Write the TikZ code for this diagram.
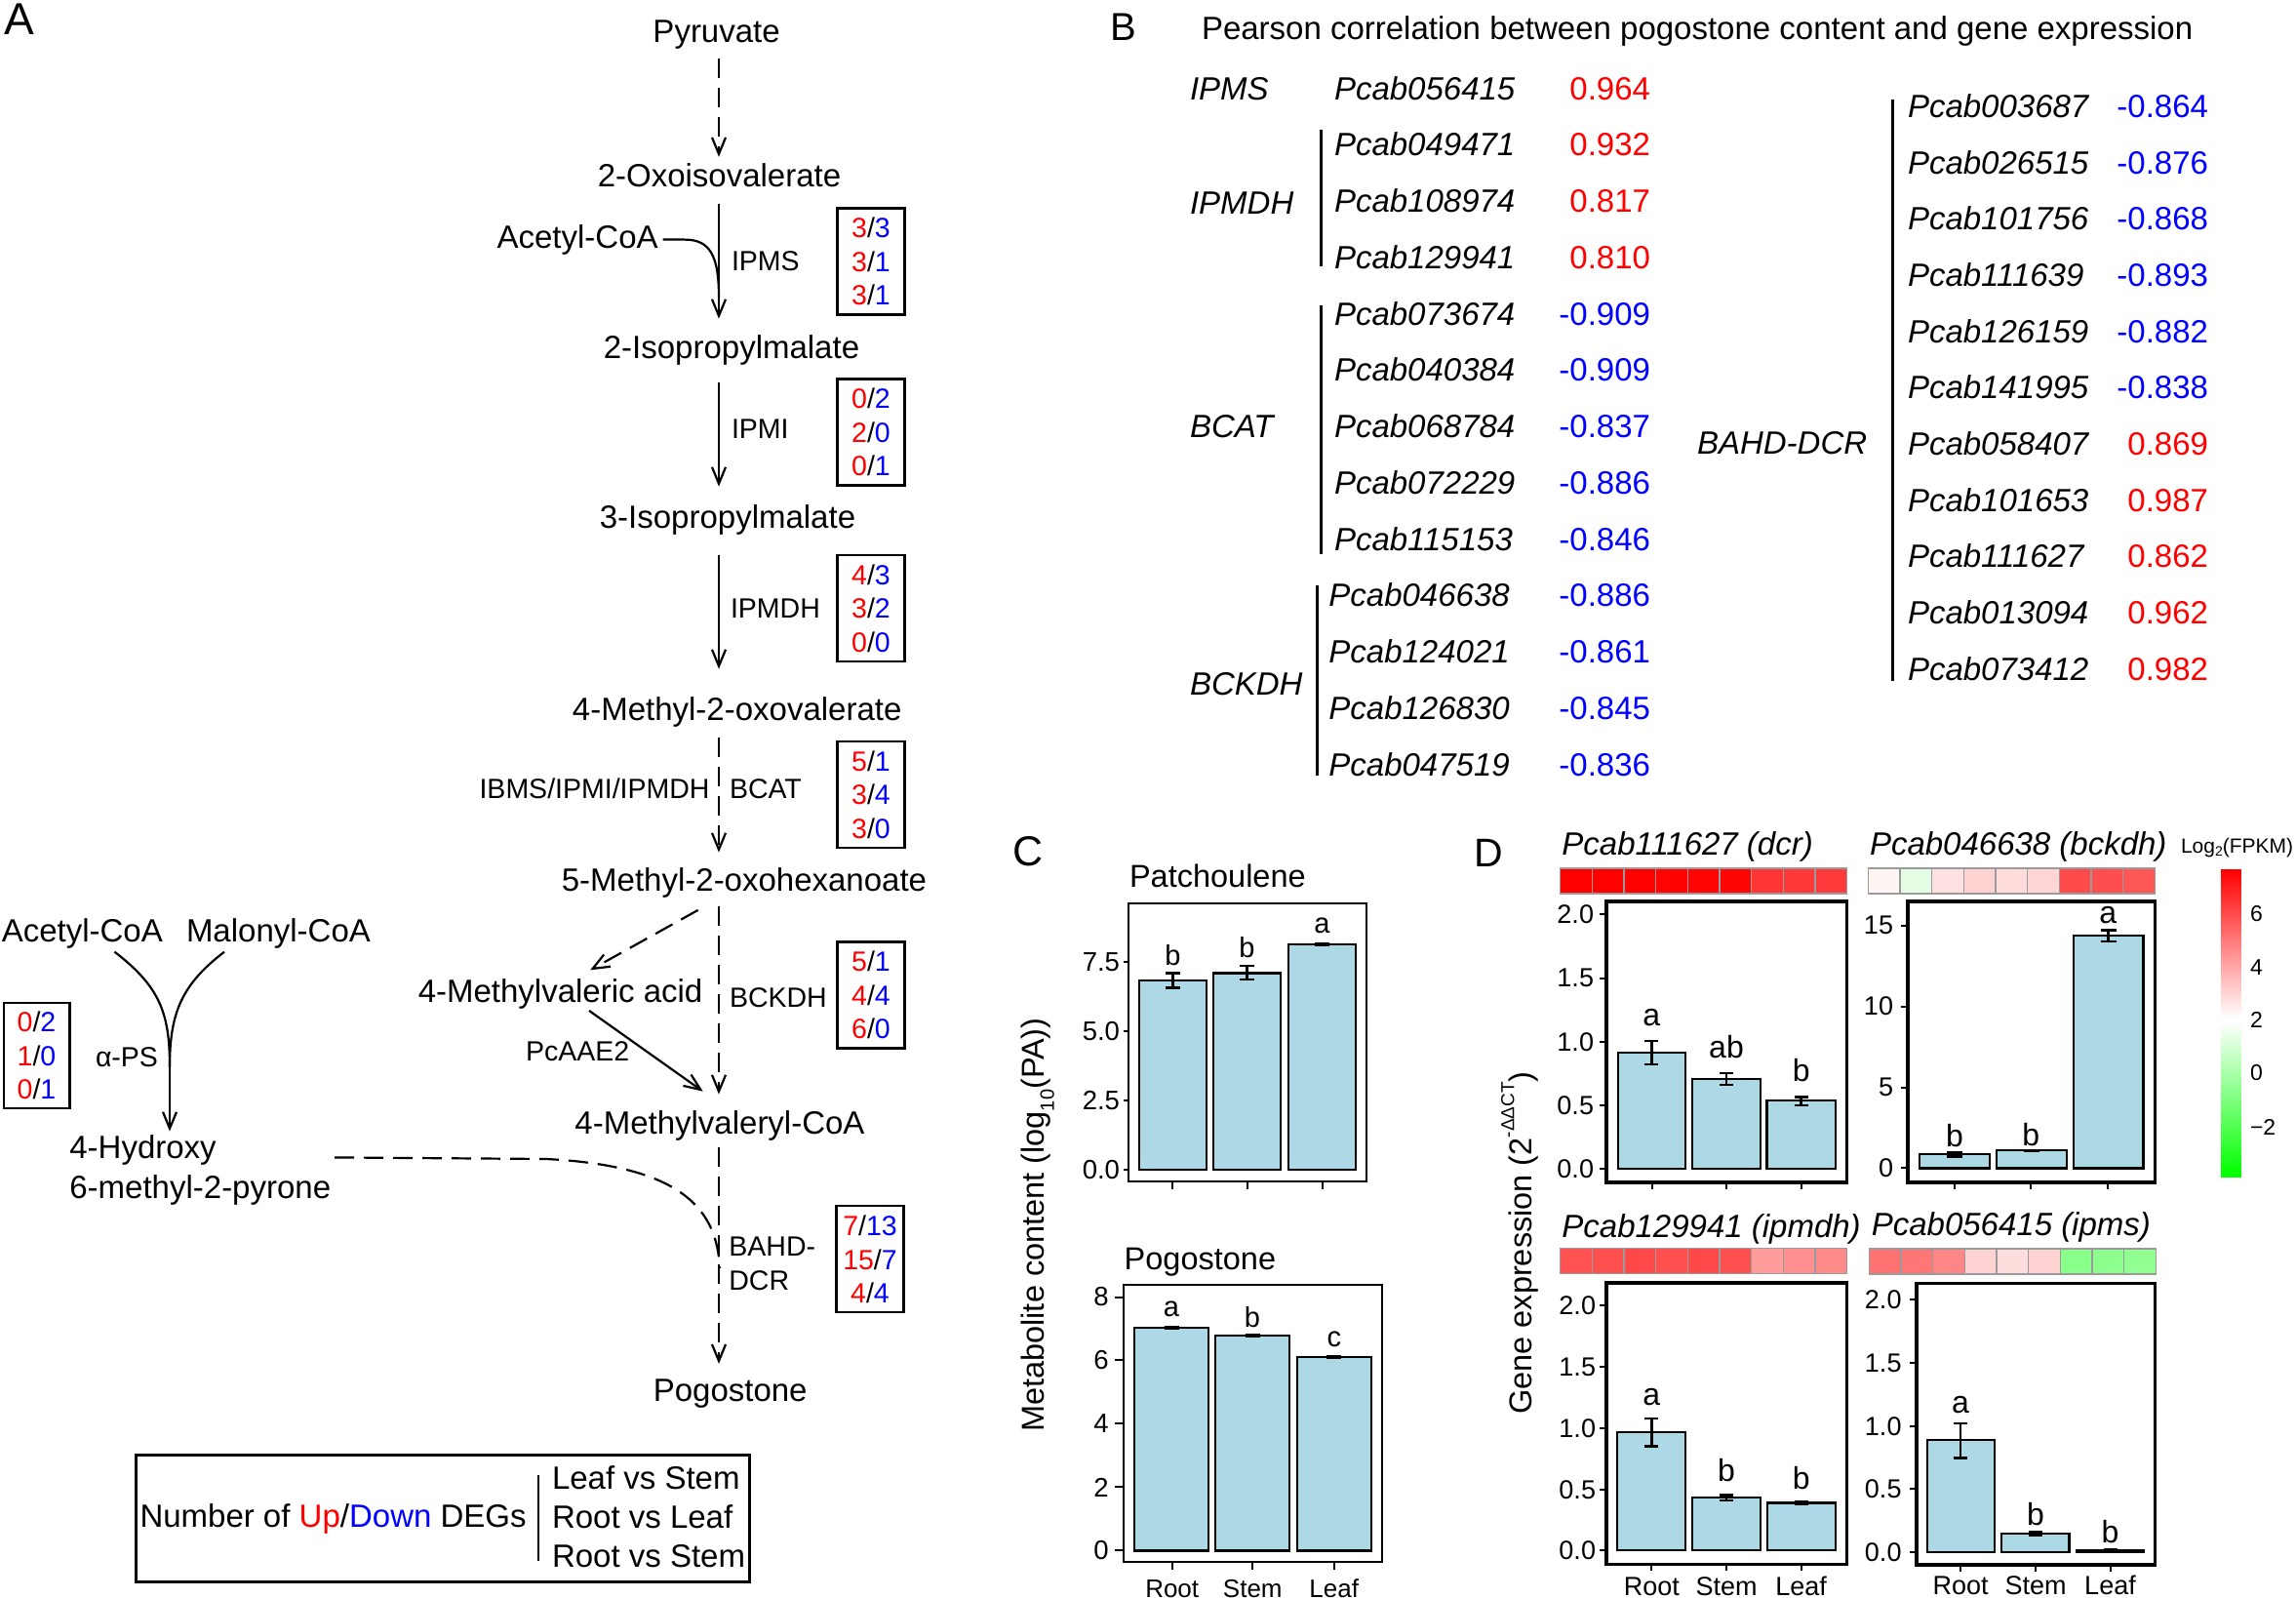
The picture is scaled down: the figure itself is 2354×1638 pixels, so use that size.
\documentclass[tikz,border=0pt]{standalone}
\usepackage{fontspec}
\setmainfont{Liberation Sans}
\usetikzlibrary{arrows.meta}
\definecolor{upred}{RGB}{255,0,0}
\definecolor{dnblue}{RGB}{0,0,255}
\definecolor{barblue}{RGB}{173,216,230}
\definecolor{cellgray}{RGB}{155,155,155}
\definecolor{cbgreen}{RGB}{0,255,0}
\newcommand{\upn}[1]{\textcolor{upred}{#1}}
\newcommand{\dnn}[1]{\textcolor{dnblue}{#1}}
\newcommand{\fs}[1]{\fontsize{#1}{#1}\selectfont}
\newcommand{\pbar}[4]{\draw[barst] (#1,#4) rectangle (#2,#3);}
\newcommand{\perr}[4]{\draw[errst] ({#1-#4},#2) -- ({#1+#4},#2) (#1,#2) -- (#1,#3) ({#1-#4},#3) -- ({#1+#4},#3);}
\newcommand{\hmap}[3]{\foreach \hc [count=\hk] in {#3} {\definecolor{hmc}{HTML}{\hc}\filldraw[fill=hmc,draw=cellgray,line width=1.4pt] ({#1+(\hk-1)*32.67},#2) rectangle ++(32.67,26);}}
\begin{document}
\begin{tikzpicture}[x=1pt,y=-1pt,
  txt/.style={inner sep=0pt,outer sep=0pt},
  cmp/.style={txt,font=\fs{33}},
  enz/.style={txt,font=\fs{28.5}},
  plab/.style={txt,font=\fs{42}},
  gene/.style={txt,font=\fs{33}\itshape},
  valst/.style={txt,font=\fs{33}},
  conn/.style={line width=2.2pt,-{Straight Barb[length=17pt,width=14pt]}},
  dconn/.style={conn,dash pattern=on 20pt off 10pt},
  plainln/.style={line width=2.2pt},
  dashln/.style={line width=2.2pt,dash pattern=on 20pt off 10pt},
  degbox/.style={draw,line width=2.2pt,minimum width=69pt,minimum height=109pt,inner sep=0pt,align=center,font=\fontsize{28.5}{34.5}\selectfont},
  grpbar/.style={line width=3pt},
  barst/.style={draw=black,fill=barblue,line width=2.2pt},
  errst/.style={line width=2.4pt},
  frameC/.style={draw,line width=2pt},
  frameD/.style={draw,line width=3.6pt},
  tickst/.style={line width=2pt},
  tkC/.style={txt,font=\fs{27.5}},
  tkD/.style={txt,font=\fs{27}},
  sigC/.style={txt,font=\fs{29}},
  sig/.style={txt,font=\fs{32}},
  xlabC/.style={txt,font=\fs{26}},
  xlab/.style={txt,font=\fs{27}},
]
\useasboundingbox (0,0) rectangle (2354,1638);
\fill[white] (0,0) rectangle (2354,1638);

% ---------------- Panel A ----------------
\node[plab,anchor=base west,font=\fs{46}] (labA) at (5,35.7) {A};
\coordinate (ax) at (737,0);
\node[cmp,anchor=base] (pyr) at (734.6,43.6) {Pyruvate};
\node[cmp,anchor=base] (oxo) at (737.5,191.8) {2-Oxoisovalerate};
\node[cmp,anchor=base] (ipm2) at (750,367) {2-Isopropylmalate};
\node[cmp,anchor=base] (ipm3) at (746,541) {3-Isopropylmalate};
\node[cmp,anchor=base] (mov) at (755.7,738) {4-Methyl-2-oxovalerate};
\node[cmp,anchor=base] (mhx) at (763,913) {5-Methyl-2-oxohexanoate};
\node[cmp,anchor=base east] (mva) at (720.4,1027.5) {4-Methylvaleric acid};
\node[cmp,anchor=base] (mvc) at (738,1162) {4-Methylvaleryl-CoA};
\node[cmp,anchor=base] (pog) at (748.7,1436) {Pogostone};
\node[cmp,anchor=base west] (ac1) at (509.6,254) {Acetyl-CoA};

\node[enz,anchor=base west] (eIPMS) at (750,277.9) {IPMS};
\node[enz,anchor=base west] (eIPMI) at (750,449) {IPMI};
\node[enz,anchor=base west] (eIPMDH) at (749,633.6) {IPMDH};
\node[enz,anchor=base east] (eIBMS) at (727.5,818.6) {IBMS/IPMI/IPMDH};
\node[enz,anchor=base west] (eBCAT) at (748,818.6) {BCAT};
\node[enz,anchor=base west] (eBCKDH) at (748,1032) {BCKDH};
\node[enz,anchor=base west] (ePcAAE) at (539,1087.5) {PcAAE2};
\node[enz,anchor=base west] (eBAHD1) at (747.4,1287.5) {BAHD-};
\node[enz,anchor=base west] (eBAHD2) at (747.4,1322) {DCR};

\node[degbox] (db1) at (893,268) {\upn{3}/\dnn{3}\\\upn{3}/\dnn{1}\\\upn{3}/\dnn{1}};
\node[degbox] (db2) at (893,443) {\upn{0}/\dnn{2}\\\upn{2}/\dnn{0}\\\upn{0}/\dnn{1}};
\node[degbox] (db3) at (893,623.8) {\upn{4}/\dnn{3}\\\upn{3}/\dnn{2}\\\upn{0}/\dnn{0}};
\node[degbox] (db4) at (893,814.8) {\upn{5}/\dnn{1}\\\upn{3}/\dnn{4}\\\upn{3}/\dnn{0}};
\node[degbox] (db5) at (893,1020) {\upn{5}/\dnn{1}\\\upn{4}/\dnn{4}\\\upn{6}/\dnn{0}};
\node[degbox] (db6) at (892,1290.8) {\upn{7}/\dnn{13}\\\upn{15}/\dnn{7}\\\upn{4}/\dnn{4}};
\node[degbox,minimum width=67.8pt,minimum height=108pt] (db7) at (37.5,1082) {\upn{0}/\dnn{2}\\\upn{1}/\dnn{0}\\\upn{0}/\dnn{1}};

% main axis connectors
\draw[dconn,shorten <=9.5pt,shorten >=7.1pt] (pyr.south -| ax) -- (oxo.north -| ax);
\draw[conn,shorten <=16.8pt,shorten >=16.4pt] (oxo.south -| ax) -- (ipm2.north -| ax);
\coordinate (ipmsj) at (737,305);
\draw[plainln] ([xshift=5pt]ac1.east) -- (702,245.6) .. controls (728,245.6) and (737,262) .. (ipmsj);
\draw[conn,shorten <=18.1pt,shorten >=18.4pt] (ipm2.south -| ax) -- (ipm3.north -| ax);
\draw[conn,shorten <=21.1pt,shorten >=28.4pt] (ipm3.south -| ax) -- (mov.north -| ax);
\draw[dconn,shorten <=11.1pt,shorten >=15.4pt] (mov.south -| ax) -- (mhx.north -| ax);
\draw[dconn,shorten <=9.1pt,shorten >=16.4pt] (mhx.south -| ax) -- (mvc.north -| ax);
\draw[dconn] ([xshift=-47.3pt,yshift=-13pt]mhx.south) -- ([xshift=30.6pt,yshift=9.3pt]mva.north);
\draw[conn] ([xshift=29.4pt,yshift=-1.6pt]mva.south) -- ([xshift=-17.3pt,yshift=19.4pt]mvc.north);
\draw[dconn,shorten <=7.1pt,shorten >=15.4pt] (mvc.south -| ax) -- (pog.north -| ax);

% left branch
\node[cmp,anchor=base west] (ac2) at (1.8,965.7) {Acetyl-CoA};
\node[cmp,anchor=base west] (mal) at (191,965.7) {Malonyl-CoA};
\node[enz,anchor=base west] (eaPS) at (98,1093.6) {α-PS};
\node[cmp,anchor=base west] (hmp1) at (71.4,1187.9) {4-Hydroxy};
\node[cmp,anchor=base west] (hmp2) at (71.4,1228) {6-methyl-2-pyrone};
\coordinate (mrg) at (174,1094);
\draw[plainln] ([xshift=33.1pt,yshift=-3.1pt]ac2.south) .. controls (165,1012) and (174,1040) .. (mrg);
\draw[plainln] ([xshift=-55.4pt,yshift=-3.1pt]mal.south) .. controls (185,1010) and (174,1040) .. (mrg);
\draw[conn,shorten >=4.3pt] (mrg) -- (mrg |- hmp1.north);
\coordinate (hst) at (343,1186.4);
\coordinate (jn) at (738,1300);
\draw[dashln] (hst) -- (560,1188) .. controls (700,1195) and (735,1240) .. (jn);

% legend
\node[draw,line width=3pt,minimum width=629.5pt,minimum height=129.3pt,inner sep=0pt] (leg) at (453.75,1556.35) {};
\node[cmp,anchor=base west] (legt) at (143.5,1565.8) {Number of \upn{Up}/\dnn{Down} DEGs};
\draw[line width=2pt] (552,1511.7) -- (552,1600);
\node[cmp,anchor=base west] (leg1) at (566,1526.6) {Leaf vs Stem};
\node[cmp,anchor=base west] (leg2) at (566,1566.8) {Root vs Leaf};
\node[cmp,anchor=base west] (leg3) at (566,1606) {Root vs Stem};

% ---------------- Panel B ----------------
\node[plab,anchor=base west,font=\fs{40}] (labB) at (1138,41.8) {B};
\node[txt,font=\fs{33},anchor=base west] (btitle) at (1232,40.8) {Pearson correlation between pogostone content and gene expression};
\foreach \g/\v/\c [count=\i] in {Pcab056415/0.964/upred, Pcab049471/0.932/upred, Pcab108974/0.817/upred, Pcab129941/0.810/upred, Pcab073674/-0.909/dnblue, Pcab040384/-0.909/dnblue, Pcab068784/-0.837/dnblue, Pcab072229/-0.886/dnblue, Pcab115153/-0.846/dnblue}{
  \node[gene,anchor=base west] (bl\i) at (1368,{102+57.75*(\i-1)}) {\g};
  \node[valst,anchor=base east,text=\c] (blv\i) at (1692,{102+57.75*(\i-1)}) {\v};
}
\foreach \g/\v [count=\i from 10] in {Pcab046638/-0.886, Pcab124021/-0.861, Pcab126830/-0.845, Pcab047519/-0.836}{
  \node[gene,anchor=base west] (bl\i) at (1362.4,{102+57.75*(\i-1)}) {\g};
  \node[valst,anchor=base east,text=dnblue] (blv\i) at (1692,{102+57.75*(\i-1)}) {\v};
}
\node[gene,anchor=base west] (gIPMS) at (1220,102) {IPMS};
\node[gene,anchor=base west] (gIPMDH) at (1220,219.7) {IPMDH};
\node[gene,anchor=base west] (gBCAT) at (1220,448.7) {BCAT};
\node[gene,anchor=base west] (gBCKDH) at (1220,712) {BCKDH};
\draw[grpbar] (1354.4,133) -- (1354.4,273);
\draw[grpbar] (1354.4,312.8) -- (1354.4,567.5);
\draw[grpbar] (1350.4,600) -- (1350.4,795);
\foreach \g/\v/\c [count=\i] in {Pcab003687/-0.864/dnblue, Pcab026515/-0.876/dnblue, Pcab101756/-0.868/dnblue, Pcab111639/-0.893/dnblue, Pcab126159/-0.882/dnblue, Pcab141995/-0.838/dnblue, Pcab058407/0.869/upred, Pcab101653/0.987/upred, Pcab111627/0.862/upred, Pcab013094/0.962/upred, Pcab073412/0.982/upred}{
  \node[gene,anchor=base west] (br\i) at (1956,{120.3+57.7*(\i-1)}) {\g};
  \node[valst,anchor=base east,text=\c] (brv\i) at (2264,{120.3+57.7*(\i-1)}) {\v};
}
\node[gene,anchor=base west] (gBAHD) at (1740,465.5) {BAHD-DCR};
\draw[grpbar] (1940,102) -- (1940,698);

% ---------------- Panel C ----------------
\node[plab,anchor=base west,font=\fs{43}] (labC) at (1038,887.8) {C};
\node[txt,font=\fs{32.5},anchor=base west] (tPat) at (1158,909.7) {Patchoulene};
\pbar{1168}{1237}{1005}{1199}
\pbar{1244}{1313}{997.4}{1199}
\pbar{1321}{1390}{967.6}{1199}
\perr{1202.5}{997.5}{1012.5}{7.5}
\perr{1278.5}{990}{1004}{7.5}
\perr{1355.5}{966.8}{968.4}{7.5}
\draw[frameC] (1157.3,926) rectangle (1400.7,1211);
\foreach \v/\y [count=\k] in {0.0/1199,2.5/1127.8,5.0/1057,7.5/986}{
  \draw[tickst] (1151.7,\y) -- (1157.3,\y);
  \node[tkC,anchor=east] (c1y\k) at (1148,\y) {\v};}
\foreach \x in {1202.3,1279,1355.7}{\draw[tickst] (\x,1211) -- (\x,1219);}
\node[sigC,anchor=base] (c1s1) at (1202.5,989.5) {b};
\node[sigC,anchor=base] (c1s2) at (1278.5,981.7) {b};
\node[sigC,anchor=base] (c1s3) at (1355.5,956.7) {a};

\node[txt,font=\fs{32.5},anchor=base west] (tPog) at (1152.7,1301) {Pogostone};
\pbar{1163}{1239}{1361}{1589.4}
\pbar{1246}{1322}{1368.6}{1589.4}
\pbar{1330}{1405.7}{1391.3}{1589.4}
\perr{1201}{1360}{1362}{7.5}
\perr{1284}{1367.8}{1369.4}{7.5}
\perr{1367.9}{1390.5}{1392}{7.5}
\draw[frameC] (1151.7,1316.6) rectangle (1416.7,1601.4);
\foreach \v/\y [count=\k] in {0/1589.4,2/1524.4,4/1459.4,6/1394.4,8/1329.5}{
  \draw[tickst] (1143,\y) -- (1151.7,\y);
  \node[tkC,anchor=east] (c2y\k) at (1136.7,\y) {\v};}
\foreach \x in {1201.7,1284.3,1367.7}{\draw[tickst] (\x,1601.4) -- (\x,1608.7);}
\node[sigC,anchor=base] (c2s1) at (1201,1349.5) {a};
\node[sigC,anchor=base] (c2s2) at (1284,1360) {b};
\node[sigC,anchor=base] (c2s3) at (1367.9,1380.8) {c};
\node[xlabC,anchor=base] (cx1) at (1201.7,1637) {Root};
\node[xlabC,anchor=base] (cx2) at (1284.3,1637) {Stem};
\node[xlabC,anchor=base] (cx3) at (1367.7,1637) {Leaf};
\node[txt,font=\fs{32.5},rotate=90] (cyl) at (1064,1255.6) {Metabolite content (log\raisebox{-0.3em}{\fs{20}10}(PA))};

% ---------------- Panel D ----------------
\node[plab,anchor=base west,font=\fs{41}] (labD) at (1511.4,888.2) {D};
\node[gene,anchor=base west] (dt1) at (1601.4,876.8) {Pcab111627 (dcr)};
\node[gene,anchor=base west] (dt2) at (1917,876.2) {Pcab046638 (bckdh)};
\node[gene,anchor=base west] (dt3) at (1601.4,1268.6) {Pcab129941 (ipmdh)};
\node[gene,anchor=base west] (dt4) at (1918.8,1266.2) {Pcab056415 (ipms)};
\hmap{1599.6}{890}{FF0000,FF0000,FF0000,FF0202,FF0404,FF0606,FF3434,FF3838,FF3A3A}
\hmap{1915.4}{890}{FFF6F4,E4FCE4,FFE1E1,FFD2D2,FFDCDC,FFD4D4,FF4A4A,FF4E4E,FF5656}
\hmap{1599.6}{1279.5}{FF5252,FF5050,FF4848,FF5050,FF4848,FF5050,FF9C9C,FF8E8E,FF8A8A}
\hmap{1916.4}{1280}{FF7272,FF7676,FF8686,FFD2D2,FFDDDD,FFD2D2,88FF88,8CFF8C,92FF92}

% colour bar drawn as thin strips
\foreach \i in {0,...,48}{
  \pgfmathsetmacro{\pc}{100-\i*100/48}
  \fill[upred!\pc!white] (2277.4,{890.5+\i*3.161}) rectangle (2297.9,{890.5+(\i+1)*3.161+0.4});}
\foreach \i in {0,...,50}{
  \pgfmathsetmacro{\pc}{\i*100/50}
  \fill[cbgreen!\pc!white] (2277.4,{1045.4+\i*3.161}) rectangle (2297.9,{1045.4+(\i+1)*3.161+(\i<50?0.4:0)});}
\foreach \v/\y [count=\k] in {6/936.8,4/991.3,2/1045.8,0/1100,−2/1155.5}{
  \node[txt,font=\fs{23},anchor=west,text=black] (cb\k) at (2307,\y) {\v};}
\node[txt,font=\fs{21},anchor=base west] (cbt) at (2236,874.5) {Log\raisebox{-0.12em}{\fs{14}2}(FPKM)};

% TL dcr
\pbar{1658.6}{1728}{1078.6}{1198}
\pbar{1734.6}{1805}{1106}{1198}
\pbar{1811.4}{1881.8}{1127.9}{1198}
\perr{1693.3}{1067}{1091}{7}
\perr{1769.8}{1100}{1112}{7}
\perr{1846.6}{1124.6}{1133}{7}
\draw[frameD] (1646.8,924) rectangle (1893.6,1212);
\foreach \v/\y [count=\k] in {0.0/1198,0.5/1133,1.0/1068,1.5/1002.5,2.0/937}{
  \draw[tickst] (1639.6,\y) -- (1646.8,\y);
  \node[tkD,anchor=east] (d1y\k) at (1634,\y) {\v};}
\foreach \x in {1693.6,1770,1846.8}{\draw[tickst] (\x,1212) -- (\x,1219);}
\node[sig,anchor=base] (d1s1) at (1693.3,1051.4) {a};
\node[sig,anchor=base] (d1s2) at (1770,1084.6) {ab};
\node[sig,anchor=base] (d1s3) at (1846.8,1108.6) {b};

% TR bckdh
\pbar{1968}{2039.7}{1183.3}{1197.4}
\pbar{2046.8}{2118.7}{1179.3}{1197.4}
\pbar{2125.9}{2197.4}{958.6}{1197.4}
\perr{2003.9}{1181.5}{1185.5}{8}
\perr{2082.7}{1178.8}{1179.8}{8}
\perr{2161.6}{953.5}{964.8}{8}
\draw[frameD] (1956.2,923.9) rectangle (2209.3,1211.7);
\foreach \v/\y [count=\k] in {0/1197.4,5/1114.5,10/1031.6,15/948.7}{
  \draw[tickst] (1949.4,\y) -- (1956.2,\y);
  \node[tkD,anchor=east] (d2y\k) at (1941,\y) {\v};}
\foreach \x in {2004,2082.3,2161.3}{\draw[tickst] (\x,1211.7) -- (\x,1219);}
\node[sig,anchor=base] (d2s1) at (2004,1175.9) {b};
\node[sig,anchor=base] (d2s2) at (2082.3,1174.2) {b};
\node[sig,anchor=base] (d2s3) at (2161.3,946.7) {a};

% BL ipmdh
\pbar{1658.3}{1728.3}{1467.6}{1589.3}
\pbar{1735}{1805}{1535.3}{1589.3}
\pbar{1811.7}{1881.8}{1540.4}{1589.3}
\perr{1693.3}{1454}{1482.3}{7}
\perr{1770}{1532.5}{1538}{7}
\perr{1846.7}{1539}{1541.8}{7}
\draw[frameD] (1646.7,1315) rectangle (1893.6,1603.3);
\foreach \v/\y [count=\k] in {0.0/1589.3,0.5/1526.7,1.0/1463.7,1.5/1401,2.0/1338.3}{
  \draw[tickst] (1639.5,\y) -- (1646.7,\y);
  \node[tkD,anchor=east] (d3y\k) at (1636,\y) {\v};}
\foreach \x in {1693.3,1770,1846.7}{\draw[tickst] (\x,1603.3) -- (\x,1610);}
\node[sig,anchor=base] (d3s1) at (1693.3,1440) {a};
\node[sig,anchor=base] (d3s2) at (1770,1518.3) {b};
\node[sig,anchor=base] (d3s3) at (1846.7,1526.7) {b};
\node[xlab,anchor=base] (d3x1) at (1693.3,1635) {Root};
\node[xlab,anchor=base] (d3x2) at (1770,1635) {Stem};
\node[xlab,anchor=base] (d3x3) at (1846.7,1635) {Leaf};

% BR ipms
\pbar{1975.6}{2044.8}{1475.9}{1591}
\pbar{2052.3}{2121.5}{1572.1}{1591}
\pbar{2129}{2198}{1589}{1591}
\perr{2010.2}{1459}{1494.5}{7}
\perr{2086.9}{1570.5}{1573.5}{7}
\perr{2163.5}{1588}{1590}{7}
\draw[frameD] (1965,1315.6) rectangle (2209.6,1604);
\foreach \v/\y [count=\k] in {0.0/1591,0.5/1526.3,1.0/1461.7,1.5/1397,2.0/1332.4}{
  \draw[tickst] (1957.5,\y) -- (1965,\y);
  \node[tkD,anchor=east] (d4y\k) at (1949.5,\y) {\v};}
\foreach \x in {2010,2087,2163.5}{\draw[tickst] (\x,1604) -- (\x,1611);}
\node[sig,anchor=base] (d4s1) at (2010,1448) {a};
\node[sig,anchor=base] (d4s2) at (2087,1563) {b};
\node[sig,anchor=base] (d4s3) at (2163.5,1581.6) {b};
\node[xlab,anchor=base] (d4x1) at (2010,1634) {Root};
\node[xlab,anchor=base] (d4x2) at (2087,1634) {Stem};
\node[xlab,anchor=base] (d4x3) at (2163.5,1634) {Leaf};

\node[txt,font=\fs{32.5},rotate=90] (dyl) at (1558,1274) {Gene expression (2\raisebox{0.55em}{\fs{19}-ΔΔCT})};
\end{tikzpicture}
\end{document}
